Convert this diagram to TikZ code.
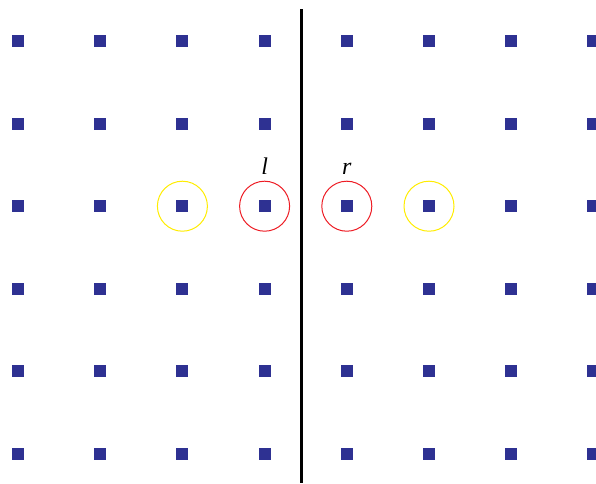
\documentclass[tikz,border=0pt]{standalone}
\usepackage{fontspec}
\setmainfont{Liberation Serif}
\usetikzlibrary{positioning}
\definecolor{siteblue}{RGB}{46,49,146}
\definecolor{ringred}{RGB}{237,28,36}
\definecolor{ringyellow}{RGB}{255,236,0}
\begin{document}
\begin{tikzpicture}[x=1pt, y=-1pt]
\tikzstyle{site} = [rectangle, minimum size=12pt, inner sep=0pt, fill=siteblue]
\tikzstyle{ring} = [circle, minimum size=50pt, inner sep=0pt, line width=1pt]
\tikzstyle{tag} = [inner sep=0pt, text height=17pt, text depth=0pt, font=\fontsize{24}{26}\selectfont\itshape]
\useasboundingbox (0,0) rectangle (596,483);
% Lattice sites
\foreach \i in {0,...,7}
  \foreach \j in {0,...,5}
    \node (s\i\j) [site] at (18+82.2*\i, 41+82.6*\j) {};

% Rings
\node (farleft) [ring, draw=ringyellow] at (s22) {};
\node (nearleft) [ring, draw=ringred] at (s32) {};
\node (nearright) [ring, draw=ringred] at (s42) {};
\node (farright) [ring, draw=ringyellow] at (s52) {};

% Labels
\node (lab-l) [tag, above=6.5pt of nearleft] {l};
\node (lab-r) [tag, above=6.5pt of nearright] {r};

% Cut
\coordinate (cut-top) at (301.5,9);
\coordinate (cut-bottom) at (301.5,483);
\draw [line width=3pt] (cut-top) -- (cut-bottom);

\end{tikzpicture}
\end{document}
